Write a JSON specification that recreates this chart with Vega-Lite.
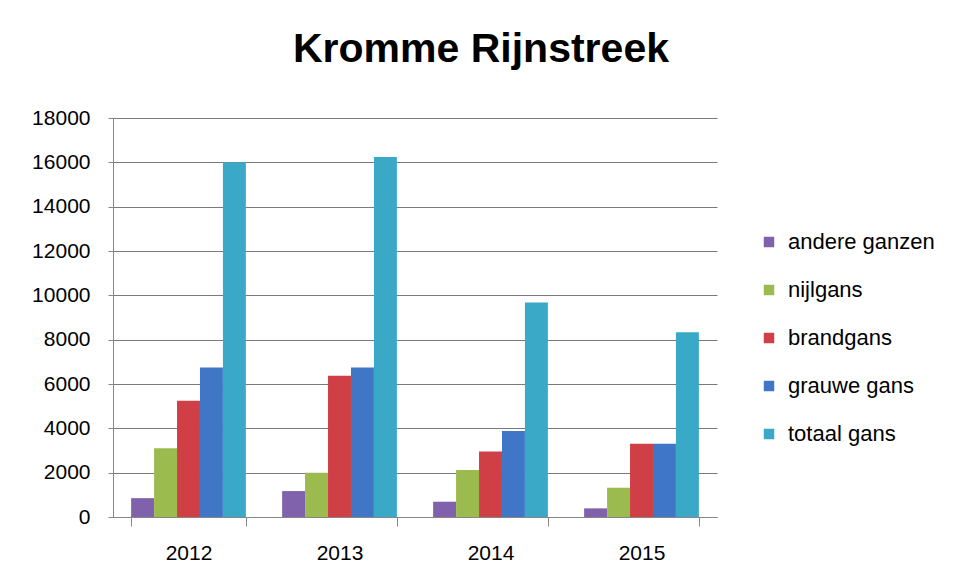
{
  "$schema": "https://vega.github.io/schema/vega-lite/v6.json",
  "autosize": {"type": "none"},
  "width": 604,
  "height": 399,
  "padding": {"left": 113, "top": 118, "right": 251, "bottom": 66},
  "background": "white",
  "title": {
    "text": "Kromme Rijnstreek",
    "font": "Liberation Sans",
    "fontSize": 41,
    "fontWeight": "bold",
    "color": "#000000",
    "anchor": "middle",
    "dx": 66,
    "offset": 36
  },
  "data": {
    "values": [
      {"jaar": "2012", "soort": "andere ganzen", "aantal": 850},
      {"jaar": "2012", "soort": "nijlgans", "aantal": 3100},
      {"jaar": "2012", "soort": "brandgans", "aantal": 5240},
      {"jaar": "2012", "soort": "grauwe gans", "aantal": 6740},
      {"jaar": "2012", "soort": "totaal gans", "aantal": 16000},
      {"jaar": "2013", "soort": "andere ganzen", "aantal": 1170},
      {"jaar": "2013", "soort": "nijlgans", "aantal": 2000},
      {"jaar": "2013", "soort": "brandgans", "aantal": 6370},
      {"jaar": "2013", "soort": "grauwe gans", "aantal": 6740},
      {"jaar": "2013", "soort": "totaal gans", "aantal": 16240},
      {"jaar": "2014", "soort": "andere ganzen", "aantal": 690},
      {"jaar": "2014", "soort": "nijlgans", "aantal": 2120},
      {"jaar": "2014", "soort": "brandgans", "aantal": 2950},
      {"jaar": "2014", "soort": "grauwe gans", "aantal": 3880},
      {"jaar": "2014", "soort": "totaal gans", "aantal": 9680},
      {"jaar": "2015", "soort": "andere ganzen", "aantal": 390},
      {"jaar": "2015", "soort": "nijlgans", "aantal": 1320},
      {"jaar": "2015", "soort": "brandgans", "aantal": 3300},
      {"jaar": "2015", "soort": "grauwe gans", "aantal": 3300},
      {"jaar": "2015", "soort": "totaal gans", "aantal": 8340}
    ]
  },
  "mark": {"type": "bar"},
  "encoding": {
    "x": {
      "field": "jaar",
      "type": "nominal",
      "scale": {"paddingInner": 0.24, "paddingOuter": 0.12},
      "axis": {
        "title": null,
        "labelAngle": 0,
        "labelFont": "Liberation Sans",
        "labelFontSize": 21,
        "labelColor": "#000000",
        "labelPadding": 16,
        "tickBand": "extent",
        "tickSize": 9,
        "tickColor": "#868686",
        "domainColor": "#868686",
        "grid": false
      }
    },
    "xOffset": {
      "field": "soort",
      "type": "nominal",
      "sort": ["andere ganzen", "nijlgans", "brandgans", "grauwe gans", "totaal gans"],
      "scale": {"paddingInner": 0, "paddingOuter": 0}
    },
    "y": {
      "field": "aantal",
      "type": "quantitative",
      "scale": {"domain": [0, 18000], "nice": false},
      "axis": {
        "title": null,
        "values": [0, 2000, 4000, 6000, 8000, 10000, 12000, 14000, 16000, 18000],
        "format": "d",
        "labelFont": "Liberation Sans",
        "labelFontSize": 21,
        "labelColor": "#000000",
        "labelPadding": 18,
        "tickSize": 5,
        "tickColor": "#868686",
        "domainColor": "#868686",
        "gridColor": "#7a7a7a",
        "gridWidth": 1.2,
        "grid": true
      }
    },
    "color": {
      "field": "soort",
      "type": "nominal",
      "sort": ["andere ganzen", "nijlgans", "brandgans", "grauwe gans", "totaal gans"],
      "scale": {
        "domain": ["andere ganzen", "nijlgans", "brandgans", "grauwe gans", "totaal gans"],
        "range": ["#7F62AB", "#9BBB4F", "#CF3F45", "#3F77C6", "#3AA9C7"]
      },
      "legend": {
        "title": null,
        "orient": "none",
        "legendX": 645,
        "legendY": 113,
        "symbolType": "square",
        "symbolSize": 110,
        "symbolStrokeWidth": 0,
        "labelFont": "Liberation Sans",
        "labelFontSize": 22,
        "labelColor": "#000000",
        "labelOffset": 8,
        "rowPadding": 26,
        "encode": {
          "symbols": {
            "enter": {
              "fill": {"signal": "datum.label === 'andere ganzen' ? '#7A7A7A' : scale('color', datum.value)"}
            },
            "update": {
              "fill": {"signal": "datum.label === 'andere ganzen' ? '#7A7A7A' : scale('color', datum.value)"}
            }
          }
        }
      }
    }
  },
  "config": {
    "view": {"stroke": null}
  }
}
